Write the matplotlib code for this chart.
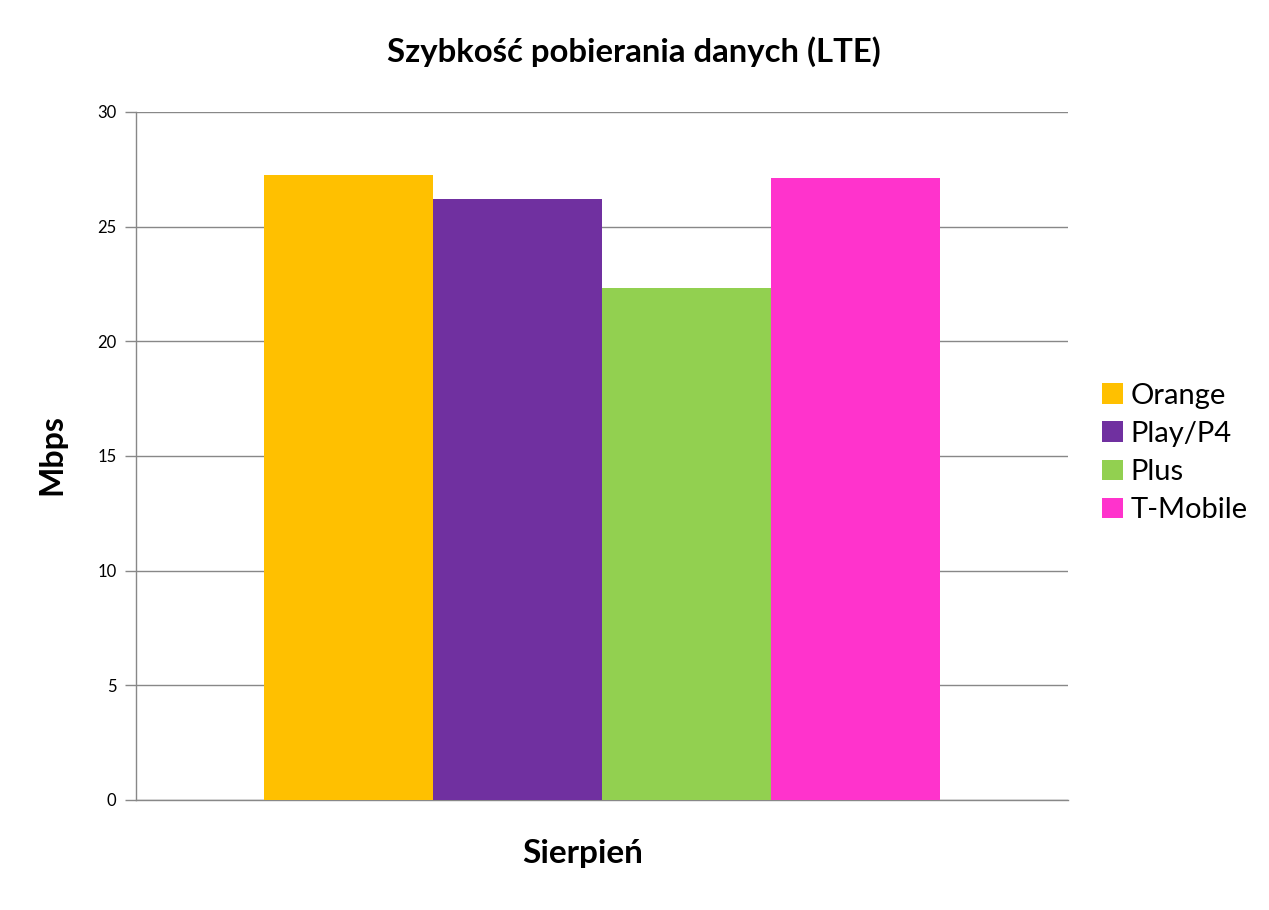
import matplotlib
matplotlib.use("Agg")
import matplotlib.pyplot as plt
import numpy as np

plt.rcParams['font.family'] = ['Lato', 'DejaVu Sans']

title = "Szybkość pobierania danych (LTE)"
category = "Sierpień"
series = ["Orange", "Play/P4", "Plus", "T-Mobile"]
values = [27.24, 26.21, 22.32, 27.12]
colors = ["#FFC000", "#7030A0", "#92D050", "#FF33CC"]
yticks = [0, 5, 10, 15, 20, 25, 30]

fig = plt.figure(figsize=(12.69, 9.10), dpi=100)
ax = fig.add_axes([136/1269, 1 - 800/910, (1068-136)/1269, (800-112)/910])

n = len(series)
bw = 0.726 / n
offsets = (np.arange(n) - (n - 1) / 2) * bw
for i, (s, v, c) in enumerate(zip(series, values, colors)):
    ax.bar(offsets[i], v, width=bw, color=c, label=s, zorder=3)

ax.set_xlim(-0.5, 0.5)
ax.set_ylim(0, 30)
ax.set_yticks(yticks)
ax.set_yticklabels([str(t) for t in yticks], fontsize=12)
ax.set_xticks([])
ax.yaxis.grid(True, color="#888888", linewidth=1, zorder=0)
for sp in ["top", "right"]:
    ax.spines[sp].set_visible(False)
for sp in ["left", "bottom"]:
    ax.spines[sp].set_color("#888888")
    ax.spines[sp].set_linewidth(1)
ax.tick_params(axis='y', length=8, color="#888888", width=1, pad=6)

fig.text(634/1269, 1 - 52/910, title, ha='center', va='center', fontsize=23.7, fontweight='bold')
fig.text(52/1269, 1 - 455/910, "Mbps", ha='center', va='center', rotation=90, fontsize=23, fontweight='bold')
fig.text(583/1269, 1 - 853/910, category, ha='center', va='center', fontsize=24, fontweight='bold')

leg = fig.legend(loc='center left', bbox_to_anchor=(1076/1269, 1 - 453/910), frameon=False,
                 fontsize=21, handlelength=0.7, handleheight=0.7, handletextpad=0.28, labelspacing=0.42)

fig.savefig("out.png", dpi=100)
